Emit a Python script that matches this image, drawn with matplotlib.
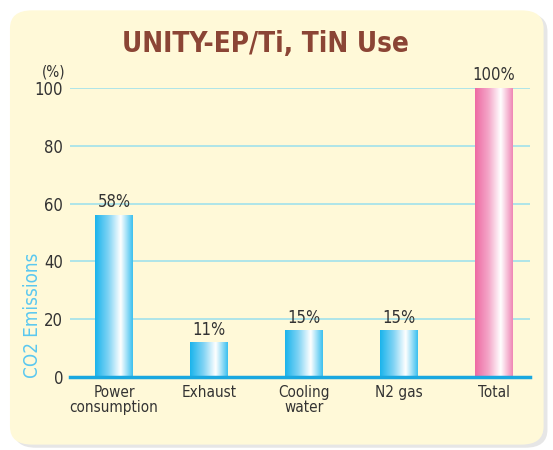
import numpy as np
import matplotlib.pyplot as plt
from matplotlib.patches import FancyBboxPatch
from matplotlib.colors import LinearSegmentedColormap

# data
categories = ['Power\nconsumption', 'Exhaust', 'Cooling\nwater', 'N2 gas', 'Total']
heights = [56, 12, 16, 16, 100]
value_labels = ['58%', '11%', '15%', '15%', '100%']
is_total = [False, False, False, False, True]
yticks = [0, 20, 40, 60, 80, 100]

plt.rcParams['font.family'] = ['DejaVu Sans Condensed', 'Liberation Sans Narrow', 'DejaVu Sans']
plt.rcParams['font.stretch'] = 'condensed'

fig = plt.figure(figsize=(5.53, 4.5), dpi=100)

# background panel with shadow
shadow = FancyBboxPatch((0.025, 0.005), 0.965, 0.965, boxstyle="round,pad=0,rounding_size=0.04",
                        transform=fig.transFigure, facecolor='#e6e6e6', edgecolor='none', zorder=-2)
panel = FancyBboxPatch((0.018, 0.012), 0.965, 0.965, boxstyle="round,pad=0,rounding_size=0.04",
                       transform=fig.transFigure, facecolor='#fff9d8', edgecolor='none', zorder=-1)
fig.patches.extend([shadow, panel])

ax = fig.add_axes([70 / 553, (450 - 377) / 450, 460 / 553, 289 / 450])
ax.set_facecolor('none')

blue_cmap = LinearSegmentedColormap.from_list('b', [(0, '#1ab4ec'), (0.35, '#7fd3f4'),
                                                    (0.68, '#ffffff'), (1, '#3cc0ef')])
pink_cmap = LinearSegmentedColormap.from_list('p', [(0, '#ee6aa3'), (0.35, '#f4a6c8'),
                                                    (0.68, '#ffffff'), (1, '#ef86b5')])
grad = np.linspace(0, 1, 128).reshape(1, -1)
w = 0.4
for i, (h, tot) in enumerate(zip(heights, is_total)):
    cmap = pink_cmap if tot else blue_cmap
    ax.imshow(grad, cmap=cmap, aspect='auto', extent=[i - w / 2, i + w / 2, 0, h],
              zorder=3, interpolation='bilinear')
    ax.text(i, h + 1.3, value_labels[i], ha='center', va='bottom', fontsize=12,
            color='#333333', zorder=4)

ax.set_xlim(-0.463, 4.38)
ax.set_ylim(0, 100)
for t in yticks[1:]:
    ax.axhline(t, color='#99dfee', lw=1.1, zorder=2)
ax.axhline(0, color='#1aa8e0', lw=2.5, zorder=5, clip_on=False)

ax.set_xticks(range(len(categories)))
ax.set_xticklabels(categories, fontsize=11, color='#333333', linespacing=0.95)
ax.set_yticks(yticks)
ax.set_yticklabels([str(t) for t in yticks], fontsize=12, color='#333333')
ax.tick_params(length=0, pad=5)
ax.tick_params(axis='x', pad=6)
for s in ax.spines.values():
    s.set_visible(False)

ax.text(-0.64, 103, '(%)', fontsize=11, color='#333333', ha='center', va='bottom')
fig.text(32 / 553, 1 - 315 / 450, 'CO2 Emissions', rotation=90, fontsize=13.5,
         color='#5bc8f0', ha='center', va='center')
fig.text(0.48, 1 - 44 / 450, 'UNITY-EP/Ti, TiN Use', fontsize=20, fontweight='bold',
         color='#8b4535', ha='center', va='center')

fig.savefig('out.png', dpi=100)
